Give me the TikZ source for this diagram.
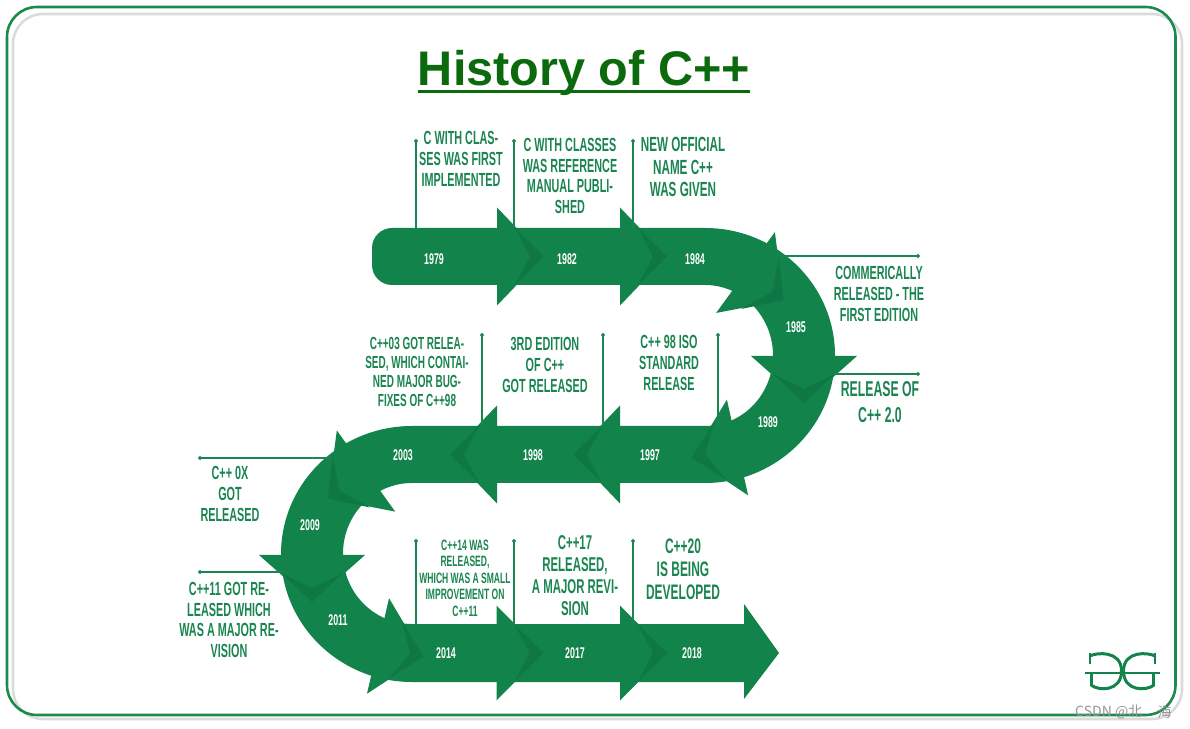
\documentclass[tikz,border=0pt]{standalone}
\usepackage{fontspec}
\setmainfont{Liberation Sans}
\newfontfamily\notefont[FakeStretch=0.57]{Liberation Sans}
\newfontfamily\markfont{Noto Sans CJK SC}
\usepackage{tikz}
\usetikzlibrary{arrows.meta, positioning}
\linespread{1.1}
\definecolor{framegreen}{HTML}{1B8A4C}
\definecolor{titlegreen}{HTML}{0B6A0B}
\definecolor{bandgreen}{HTML}{12834B}
\definecolor{banddark}{HTML}{0F7744}
\definecolor{notegreen}{HTML}{1A8550}
\tikzset{
    note/.style={font=\notefont\bfseries\fontsize{#1}{#1}\selectfont, text=notegreen, align=center, inner sep=0pt},
    year/.style={font=\notefont\bfseries\fontsize{15.5}{15.5}\selectfont, text=white, inner sep=0pt},
    leader/.style={draw=notegreen, line width=1.1pt, -{Circle[length=4pt]}},
    logoline/.style={draw=bandgreen, line width=#1, line cap=butt},
    pics/bandhead/.style 2 args={code={
        \fill[bandgreen] (0,#1) -- (47,0) -- (0,-#1) -- cycle;
        \fill[banddark] (18,#2) -- (47,0) -- (18,-#2) -- (33,0) -- cycle;
    }},
    pics/logoglyph/.style={code={
        \draw[logoline=3pt] (16,15) .. controls (10,18.5) and (-15.5,21) .. (-15.5,0)
            .. controls (-15.5,-21) and (8,-20) .. (15,-14);
        \draw[logoline=2pt] (16,18.5) -- (16,7);
        \draw[logoline=3pt] (14.5,-3) -- (14.5,-15);
    }},
}

\begin{document}
\begin{tikzpicture}[x=1pt, y=1pt]
    \useasboundingbox (0,0) rectangle (1190,728);

    % frame
    \draw[black!14, line width=2.6pt, rounded corners=30pt] (13,9) rectangle (1182,714);
    \draw[framegreen, line width=2.6pt, rounded corners=30pt] (7,13) rectangle (1175.5,721);

    % title
    \node[anchor=base, font=\bfseries\fontsize{48.6}{48.6}\selectfont, text=titlegreen, inner sep=0pt] (title) at (584,642) {History of C++};
    \draw[titlegreen, line width=3pt] ([yshift=-6pt]title.base west) -- ([yshift=-6pt]title.base east);

    % ribbon
    \fill[bandgreen] (392,500) -- (705,500) arc[start angle=90, end angle=-90, x radius=130, y radius=127.5]
        -- (412,245) arc[start angle=90, end angle=270, x radius=69, y radius=70.5]
        -- (744,104) -- (744,124) -- (779,75) -- (744,29) -- (744,46)
        -- (412,46) arc[start angle=270, end angle=90, x radius=131, y radius=128]
        -- (705,302) arc[start angle=-90, end angle=90, x radius=68, y radius=70.5]
        -- (392,443) arc[start angle=270, end angle=180, radius=20]
        -- (372,480) arc[start angle=180, end angle=90, radius=20] -- cycle;
    \pic at (497,471.5) {bandhead={49}{28.5}};
    \pic at (620,471.5) {bandhead={49}{28.5}};
    \pic[rotate=-36] at (745.5,455.5) {bandhead={50}{32}};
    \pic[rotate=-90] at (804,372) {bandhead={53}{31}};
    \pic[rotate=192.5] at (737.5,280.5) {bandhead={49}{29}};
    \pic[rotate=180] at (620,273.5) {bandhead={49}{28.5}};
    \pic[rotate=180] at (497,273.5) {bandhead={49}{28.5}};
    \pic[rotate=215.7] at (366,257) {bandhead={50}{32}};
    \pic[rotate=-90] at (312,173) {bandhead={53}{31}};
    \pic[rotate=-13] at (378,82) {bandhead={49}{29}};
    \pic at (496.5,75) {bandhead={47.5}{28.5}};
    \pic at (620,75) {bandhead={47.5}{28.5}};

    % years
    \node[year] (y1979) at (434,469) {1979};
    \node[year] (y1982) at (567,469) {1982};
    \node[year] (y1984) at (695,469) {1984};
    \node[year] (y1985) at (796,401) {1985};
    \node[year] (y1989) at (768,306) {1989};
    \node[year] (y1997) at (650,273) {1997};
    \node[year] (y1998) at (533,273) {1998};
    \node[year] (y2003) at (403,273) {2003};
    \node[year] (y2009) at (310,203) {2009};
    \node[year] (y2011) at (338,108) {2011};
    \node[year] (y2014) at (446,75) {2014};
    \node[year] (y2017) at (575,75) {2017};
    \node[year] (y2018) at (692,75) {2018};

    % leaders
    \coordinate (f1979) at (416,500); \coordinate (e1979) at (416,589); \draw[leader] (f1979) -- (e1979);
    \coordinate (f1982) at (514,500); \coordinate (e1982) at (514,589); \draw[leader] (f1982) -- (e1982);
    \coordinate (f1984) at (633,500); \coordinate (e1984) at (633,589); \draw[leader] (f1984) -- (e1984);
    \coordinate (f1985) at (780,472); \coordinate (e1985) at (920,472); \draw[leader] (f1985) -- (e1985);
    \coordinate (f1989) at (834,354); \coordinate (e1989) at (920,354); \draw[leader] (f1989) -- (e1989);
    \coordinate (f1997) at (718,302); \coordinate (e1997) at (718,395); \draw[leader] (f1997) -- (e1997);
    \coordinate (f1998) at (603,302); \coordinate (e1998) at (603,395); \draw[leader] (f1998) -- (e1998);
    \coordinate (f2003) at (482,302); \coordinate (e2003) at (482,395); \draw[leader] (f2003) -- (e2003);
    \coordinate (f2009) at (332,270); \coordinate (e2009) at (198,270); \draw[leader] (f2009) -- (e2009);
    \coordinate (f2011) at (284,156); \coordinate (e2011) at (198,156); \draw[leader] (f2011) -- (e2011);
    \coordinate (f2014) at (416,104); \coordinate (e2014) at (416,189); \draw[leader] (f2014) -- (e2014);
    \coordinate (f2017) at (514,104); \coordinate (e2017) at (514,189); \draw[leader] (f2017) -- (e2017);
    \coordinate (f2018) at (633,104); \coordinate (e2018) at (633,189); \draw[leader] (f2018) -- (e2018);

    % notes
    \node[note=19] (n1979) at (461,569) {C WITH CLAS-\\SES WAS FIRST\\IMPLEMENTED};
    \node[note=19] (n1982) at (570,552) {C WITH CLASSES\\WAS REFERENCE\\MANUAL PUBLI-\\SHED};
    \node[note=20.5] (n1984) at (683,561) {NEW OFFICIAL\\NAME C++\\WAS GIVEN};
    \node[note=19] (n1985) at (879,434) {COMMERICALLY\\RELEASED - THE\\FIRST EDITION};
    \node[note=21.5] (n1989) at (880,326) {RELEASE OF\\[2pt]C++ 2.0};
    \node[note=19] (n1997) at (669,365) {C++ 98 ISO\\STANDARD\\RELEASE};
    \node[note=19] (n1998) at (545,363) {3RD EDITION\\OF C++\\GOT RELEASED};
    \node[note=17.5] (n2003) at (417,356) {C++03 GOT RELEA-\\SED, WHICH CONTAI-\\NED MAJOR BUG-\\FIXES OF C++98};
    \node[note=19] (n2009) at (230,234) {C++ 0X\\GOT\\RELEASED};
    \node[note=19] (n2011) at (229,108) {C++11 GOT RE-\\LEASED WHICH\\WAS A MAJOR RE-\\VISION};
    \node[note=15] (n2014) at (465,150) {C++14 WAS\\RELEASED,\\WHICH WAS A SMALL\\IMPROVEMENT ON\\C++11};
    \node[note=20] (n2017) at (575,152) {C++17\\RELEASED,\\A MAJOR REVI-\\SION};
    \node[note=21] (n2018) at (683,159) {C++20\\IS BEING\\DEVELOPED};

    % logo
    \pic at (1139,57) {logoglyph};
    \pic[xscale=-1] at (1106,57) {logoglyph};
    \coordinate (barl) at (1085,55); \coordinate (barr) at (1160,55);
    \draw[logoline=1.3pt] (barl) -- (barr);

    % mark in the corner
    \node[font=\markfont\fontsize{14}{14}\selectfont, text=black!42, anchor=west, inner sep=0pt] (mark) at (1075,16) {CSDN @北};
    \node[font=\markfont\fontsize{14}{14}\selectfont, text=black!42, inner sep=0pt, right=15pt of mark] (markb) {海};
\end{tikzpicture}
\end{document}
